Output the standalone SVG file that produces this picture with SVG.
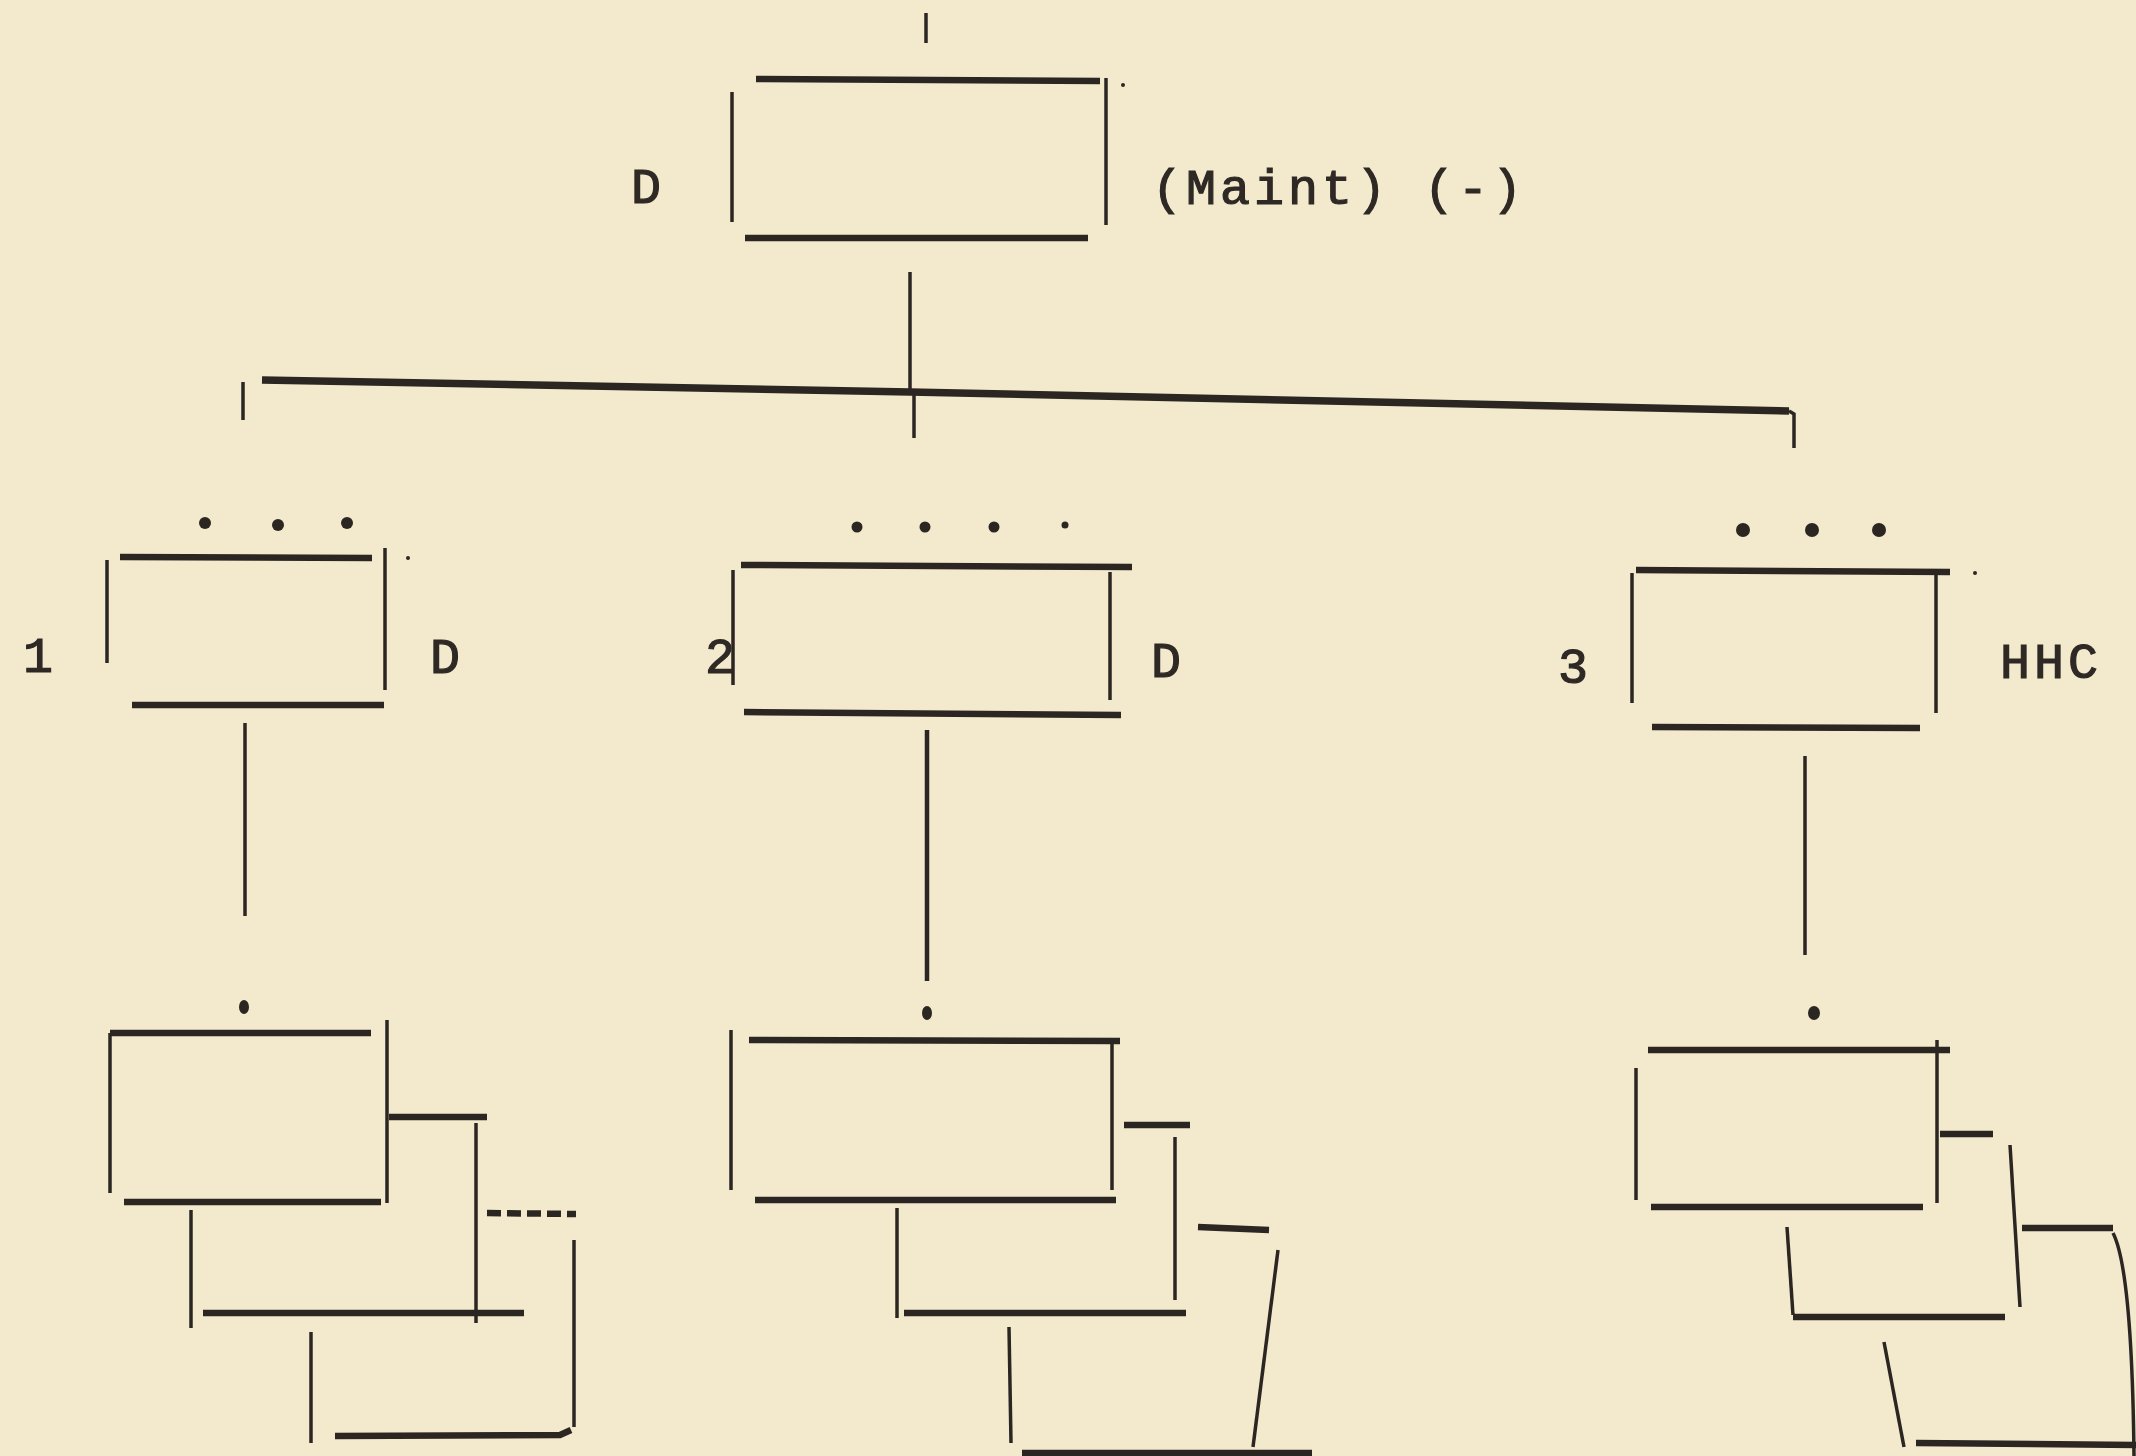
<svg xmlns="http://www.w3.org/2000/svg" width="2136" height="1456" viewBox="0 0 2136 1456">
<style>
.h{stroke:#2b2622;stroke-width:6.5;fill:none;stroke-linecap:butt}
.v{stroke:#2b2622;stroke-width:3.5;fill:none;stroke-linecap:butt}
.c{stroke:#2b2622;stroke-width:3.5;fill:none}
.bus{stroke:#2b2622;stroke-width:7.5;fill:none}
.dot{fill:#2b2622}
.lbl{font-family:"Liberation Mono","Courier New",monospace;font-size:50px;fill:#2e2925;stroke:#2e2925;stroke-width:1.2;letter-spacing:4px}
</style>
<rect width="2136" height="1456" fill="#f3eacd"/>
<g id="connectors">
<line class="c" x1="926" y1="13" x2="926" y2="43"/>
<line class="c" x1="910" y1="272" x2="910" y2="392"/>
<line class="c" x1="914" y1="392" x2="914" y2="438"/>
<path class="bus" d="M262 380 L910 392 L1789 411"/>
<line class="c" x1="243" y1="382" x2="243" y2="420"/>
<path class="c" d="M1789 411 L1794 414 L1794 448"/>
<line class="c" x1="245" y1="723" x2="245" y2="916"/>
<line class="c" x1="927" y1="730" x2="927" y2="981" style="stroke-width:4.5"/>
<line class="c" x1="1805" y1="756" x2="1805" y2="955"/>
</g>
<g id="node-top">
<line class="h" x1="756" y1="79" x2="1100" y2="81"/>
<line class="v" x1="732" y1="92" x2="732" y2="222"/>
<line class="v" x1="1106" y1="78" x2="1106" y2="225"/>
<line class="h" x1="745" y1="238" x2="1088" y2="238"/>
<circle class="dot" cx="1123" cy="85" r="2"/>
<text class="lbl" x="648" y="203" text-anchor="middle">D</text>
<text class="lbl" x="1152" y="204">(Maint) (-)</text>
</g>
<g id="node-1">
<circle class="dot" cx="205" cy="523" r="6"/>
<circle class="dot" cx="278" cy="525" r="6"/>
<circle class="dot" cx="347" cy="523" r="6"/>
<line class="h" x1="120" y1="557" x2="372" y2="558"/>
<line class="v" x1="107" y1="560" x2="107" y2="663"/>
<line class="v" x1="385" y1="548" x2="385" y2="690"/>
<line class="h" x1="132" y1="705" x2="384" y2="705"/>
<circle class="dot" cx="408" cy="558" r="2"/>
<text class="lbl" x="40" y="672" text-anchor="middle">1</text>
<text class="lbl" x="447" y="673" text-anchor="middle">D</text>
</g>
<g id="node-2">
<circle class="dot" cx="857" cy="527" r="5.5"/>
<circle class="dot" cx="925" cy="527" r="5.5"/>
<circle class="dot" cx="994" cy="527" r="5.5"/>
<circle class="dot" cx="1065" cy="525" r="3.5"/>
<line class="h" x1="741" y1="565" x2="1132" y2="567"/>
<line class="v" x1="733" y1="570" x2="733" y2="685"/>
<line class="v" x1="1110" y1="572" x2="1110" y2="700"/>
<line class="h" x1="744" y1="712" x2="1121" y2="715"/>
<text class="lbl" x="722" y="673" text-anchor="middle">2</text>
<text class="lbl" x="1168" y="677" text-anchor="middle">D</text>
</g>
<g id="node-3">
<circle class="dot" cx="1743" cy="530" r="7"/>
<circle class="dot" cx="1812" cy="530" r="7"/>
<circle class="dot" cx="1879" cy="530" r="7"/>
<line class="h" x1="1636" y1="570" x2="1950" y2="572"/>
<circle class="dot" cx="1975" cy="573" r="2"/>
<line class="v" x1="1632" y1="573" x2="1632" y2="703"/>
<line class="v" x1="1936" y1="575" x2="1936" y2="713"/>
<line class="h" x1="1652" y1="727" x2="1920" y2="728"/>
<text class="lbl" x="1575" y="683" text-anchor="middle">3</text>
<text class="lbl" x="2051" y="678" text-anchor="middle">HHC</text>
</g>
<g id="stack-1">
<ellipse class="dot" cx="244" cy="1007" rx="5" ry="7"/>
<line class="h" x1="110" y1="1033" x2="371" y2="1033"/>
<line class="v" x1="110" y1="1033" x2="110" y2="1193"/>
<line class="v" x1="387" y1="1020" x2="387" y2="1203"/>
<line class="h" x1="124" y1="1202" x2="381" y2="1202"/>
<line class="h" x1="389" y1="1117" x2="487" y2="1117"/>
<line class="v" x1="476" y1="1123" x2="476" y2="1323"/>
<line class="v" x1="191" y1="1210" x2="191" y2="1328"/>
<line class="h" x1="203" y1="1313" x2="524" y2="1313"/>
<line class="h" x1="487" y1="1213" x2="576" y2="1214" style="stroke-dasharray:14 6"/>
<line class="v" x1="574" y1="1240" x2="574" y2="1427"/>
<line class="v" x1="311" y1="1332" x2="311" y2="1443"/>
<path class="h" d="M335 1436 L560 1435 L571 1430"/>
</g>
<g id="stack-2">
<ellipse class="dot" cx="927" cy="1013" rx="5" ry="7"/>
<line class="h" x1="749" y1="1040" x2="1120" y2="1041"/>
<line class="v" x1="731" y1="1030" x2="731" y2="1190"/>
<line class="v" x1="1112" y1="1040" x2="1112" y2="1190"/>
<line class="h" x1="755" y1="1200" x2="1116" y2="1200"/>
<line class="h" x1="1124" y1="1125" x2="1190" y2="1125"/>
<line class="v" x1="1175" y1="1137" x2="1175" y2="1300"/>
<line class="v" x1="897" y1="1208" x2="897" y2="1318"/>
<line class="h" x1="904" y1="1313" x2="1186" y2="1313"/>
<line class="h" x1="1198" y1="1227" x2="1269" y2="1230"/>
<line class="v" x1="1278" y1="1250" x2="1253" y2="1447"/>
<line class="v" x1="1009" y1="1327" x2="1011" y2="1443"/>
<line class="h" x1="1022" y1="1453" x2="1312" y2="1453"/>
</g>
<g id="stack-3">
<ellipse class="dot" cx="1814" cy="1013" rx="6" ry="7"/>
<line class="h" x1="1648" y1="1050" x2="1950" y2="1050"/>
<line class="v" x1="1636" y1="1068" x2="1636" y2="1200"/>
<line class="v" x1="1937" y1="1040" x2="1937" y2="1203"/>
<line class="h" x1="1651" y1="1207" x2="1923" y2="1207"/>
<line class="h" x1="1940" y1="1134" x2="1993" y2="1134"/>
<line class="v" x1="2010" y1="1145" x2="2020" y2="1307"/>
<line class="v" x1="1787" y1="1227" x2="1793" y2="1315"/>
<line class="h" x1="1793" y1="1317" x2="2005" y2="1317"/>
<line class="h" x1="2022" y1="1228" x2="2113" y2="1228"/>
<path class="v" d="M2113 1233 Q2132 1270 2134 1456"/>
<line class="v" x1="1884" y1="1342" x2="1904" y2="1447"/>
<line class="h" x1="1916" y1="1443" x2="2136" y2="1445"/>
</g>
</svg>
